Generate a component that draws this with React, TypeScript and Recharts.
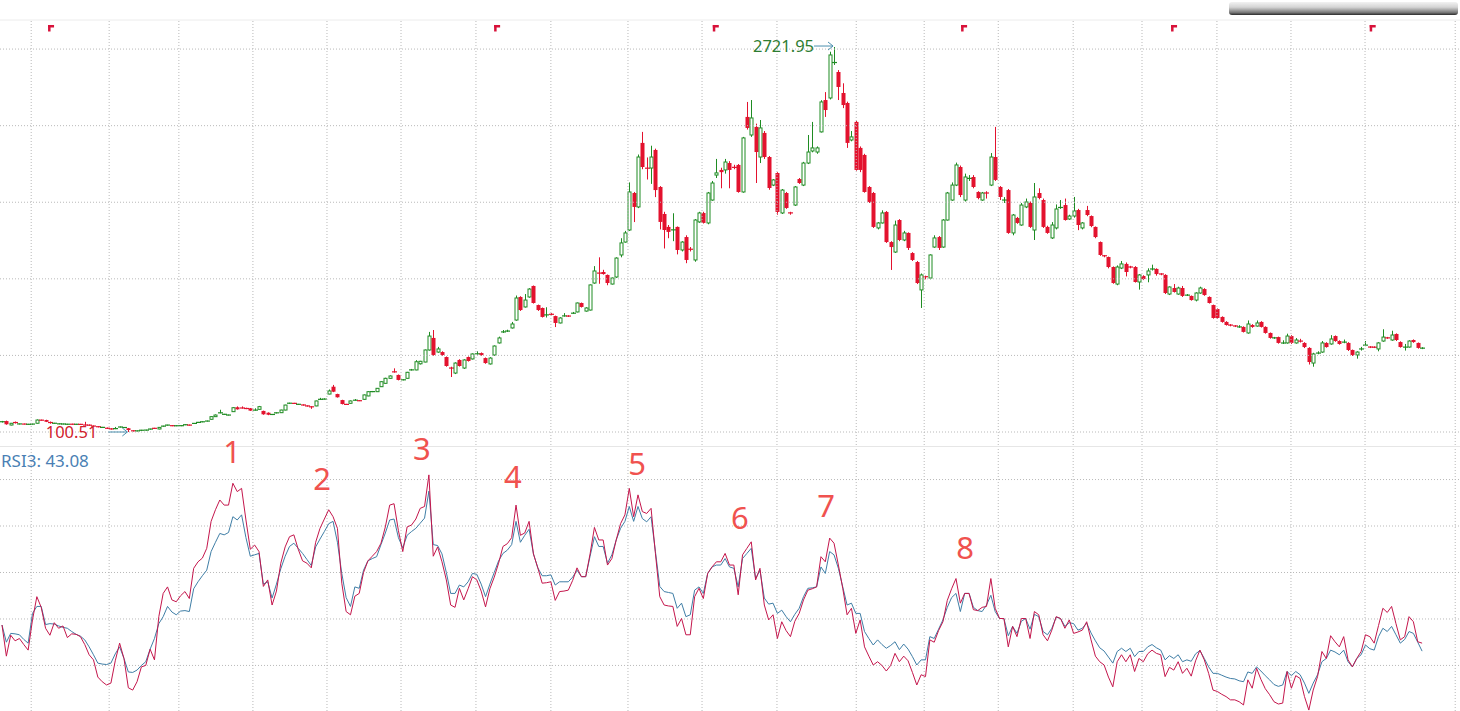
import React from 'react'
import {
  ComposedChart,
  LineChart,
  Bar,
  Line,
  Scatter,
  XAxis,
  YAxis,
  ReferenceLine,
  ReferenceDot,
} from 'recharts'

// ── daily candles (open / high / low / close) ────────────────
const opens = [
  170, 175, 148, 170, 155, 155, 153, 154, 160, 182,
  182, 170, 160, 156, 155, 153, 154, 153, 153, 150,
  148, 142, 138, 132, 128, 123, 122, 134, 131, 126,
  110, 108, 112, 113, 120, 127, 121, 140, 147, 145,
  143, 143, 150, 149, 158, 166, 170, 175, 187, 205,
  230, 221, 216, 239, 269, 266, 263, 262, 248, 255,
  244, 232, 219, 230, 232, 250, 296, 296, 289, 286,
  280, 274, 278, 322, 324, 359, 409, 359, 318, 289,
  296, 316, 314, 323, 346, 375, 375, 409, 432, 466,
  512, 489, 455, 466, 522, 523, 565, 577, 659, 741,
  645, 645, 611, 538, 502, 591, 536, 611, 598, 632,
  638, 604, 564, 625, 707, 780, 786, 809, 863, 1020,
  952, 1020, 1095, 965, 945, 897, 904, 890, 843, 890,
  892, 908, 918, 979, 924, 931, 1115, 1185, 1190, 1170,
  1108, 1156, 1306, 1394, 1476, 1728, 1633, 2069, 1898, 1898,
  2021, 1769, 1585, 1497, 1476, 1497, 1340, 1428, 1350, 1272,
  1531, 1592, 1524, 1680, 1850, 1885, 1885, 1932, 1905, 1919,
  1735, 2246, 2123, 2178, 1973, 2137, 1973, 1782, 1864, 1592,
  1728, 1595, 1646, 1823, 1782, 1932, 2014, 2007, 2144, 2361,
  2375, 2613, 2552, 2409, 2341, 2089, 2212, 2035, 1987, 1769,
  1728, 1490, 1524, 1599, 1394, 1326, 1544, 1408, 1456, 1319,
  1258, 1068, 1160, 1149, 1360, 1428, 1360, 1544, 1680, 1782,
  1905, 1680, 1825, 1837, 1735, 1680, 1730, 1782, 1973, 1769,
  1678, 1748, 1456, 1558, 1510, 1633, 1660, 1476, 1728, 1680,
  1497, 1422, 1490, 1626, 1646, 1551, 1571, 1612, 1490, 1612,
  1571, 1497, 1394, 1302, 1292, 1224, 1108, 1217, 1245, 1226,
  1224, 1122, 1163, 1170, 1209, 1211, 1178, 1170, 1040, 1081,
  1040, 1081, 1031, 1027, 999, 1047, 1074, 1020, 965, 938,
  884, 850, 830, 824, 814, 816, 775, 829, 822, 850,
  816, 775, 740, 747, 705, 707, 754, 707, 721, 707,
  673, 570, 636, 645, 707, 700, 754, 720, 711, 707,
  659, 625, 664, 690, 681, 680, 666, 720, 743, 727,
  768, 713, 677, 679, 727, 707, 670,
]
const highs = [
  176, 178, 162, 172, 158, 158, 156, 157, 186, 185,
  184, 172, 163, 159, 158, 156, 157, 156, 156, 170,
  152, 145, 141, 135, 131, 126, 135, 138, 134, 128,
  112, 111, 115, 116, 123, 129, 134, 143, 150, 147,
  146, 146, 153, 151, 162, 169, 173, 178, 207, 220,
  252, 224, 219, 270, 275, 275, 266, 264, 262, 278,
  246, 234, 223, 234, 252, 286, 300, 299, 292, 289,
  282, 276, 314, 333, 330, 390, 421, 361, 320, 292,
  315, 325, 317, 356, 378, 380, 400, 446, 470, 486,
  534, 492, 460, 510, 530, 590, 585, 662, 782, 795,
  680, 650, 615, 545, 575, 596, 596, 615, 636, 650,
  642, 608, 610, 690, 750, 795, 797, 850, 1030, 1025,
  1040, 1080, 1098, 968, 948, 950, 910, 893, 882, 910,
  896, 918, 982, 982, 950, 1105, 1230, 1290, 1205, 1173,
  1152, 1290, 1420, 1470, 1800, 1735, 1990, 2144, 1970, 2050,
  2030, 1775, 1600, 1510, 1590, 1500, 1400, 1440, 1360, 1550,
  1600, 1600, 1735, 1810, 1960, 1900, 1960, 1945, 1920, 1925,
  2110, 2348, 2361, 2200, 2225, 2150, 1980, 1823, 1870, 1755,
  1735, 1600, 1775, 1830, 1940, 2123, 2212, 2045, 2360, 2415,
  2690, 2721.95, 2565, 2475, 2350, 2150, 2220, 2045, 1995, 1775,
  1735, 1530, 1610, 1605, 1400, 1540, 1550, 1470, 1460, 1325,
  1265, 1180, 1165, 1310, 1440, 1435, 1550, 1735, 1800, 1935,
  1915, 1860, 1850, 1850, 1740, 1735, 1740, 2000, 2178, 1775,
  1700, 1755, 1585, 1565, 1660, 1690, 1670, 1796, 1760, 1690,
  1505, 1530, 1650, 1680, 1690, 1580, 1701, 1620, 1530, 1640,
  1575, 1500, 1398, 1306, 1295, 1228, 1235, 1265, 1255, 1232,
  1230, 1176, 1168, 1215, 1240, 1215, 1182, 1175, 1092, 1108,
  1090, 1095, 1040, 1030, 1052, 1090, 1080, 1024, 968, 942,
  888, 855, 835, 828, 828, 820, 860, 835, 860, 855,
  820, 778, 748, 750, 725, 770, 760, 740, 735, 712,
  678, 640, 650, 720, 712, 760, 758, 725, 730, 712,
  662, 650, 680, 720, 685, 684, 712, 800, 748, 790,
  772, 718, 700, 725, 731, 710, 678,
]
const lows = [
  165, 150, 146, 158, 152, 152, 150, 151, 158, 178,
  168, 157, 157, 153, 152, 150, 151, 150, 150, 144,
  143, 137, 132, 129, 121, 117, 120, 131, 128, 100.51,
  104, 105, 109, 110, 117, 121, 119, 137, 144, 140,
  140, 140, 147, 144, 155, 163, 167, 172, 185, 203,
  228, 218, 213, 237, 253, 260, 256, 244, 246, 253,
  218, 215, 216, 227, 230, 248, 293, 293, 286, 280,
  273, 258, 276, 320, 322, 357, 372, 335, 288, 285,
  294, 314, 311, 321, 344, 372, 373, 407, 430, 464,
  505, 452, 452, 464, 519, 521, 560, 575, 655, 620,
  640, 620, 545, 475, 495, 546, 530, 580, 594, 628,
  620, 565, 560, 620, 703, 775, 782, 805, 858, 925,
  948, 1015, 975, 925, 880, 880, 895, 815, 840, 886,
  884, 905, 915, 948, 920, 928, 1110, 1110, 1172, 1100,
  1105, 1150, 1290, 1390, 1470, 1530, 1625, 1890, 1820, 1790,
  1700, 1480, 1350, 1420, 1400, 1310, 1330, 1250, 1330, 1260,
  1525, 1520, 1515, 1675, 1830, 1760, 1860, 1760, 1890, 1730,
  1730, 2160, 2110, 1796, 1932, 1960, 1750, 1775, 1580, 1585,
  1620, 1580, 1640, 1790, 1775, 1925, 2005, 1995, 2140, 2246,
  2365, 2600, 2361, 2306, 2035, 2080, 1880, 1870, 1730, 1660,
  1490, 1480, 1520, 1388, 1204, 1320, 1400, 1400, 1340, 1265,
  1108, 945, 1140, 1140, 1355, 1340, 1355, 1540, 1675, 1775,
  1700, 1670, 1810, 1760, 1685, 1675, 1690, 1775, 1810, 1680,
  1660, 1450, 1440, 1518, 1505, 1625, 1490, 1408, 1685, 1490,
  1450, 1415, 1480, 1620, 1540, 1545, 1560, 1475, 1480, 1570,
  1495, 1420, 1300, 1290, 1215, 1110, 1100, 1210, 1160, 1215,
  1118, 1070, 1135, 1120, 1200, 1165, 1168, 1040, 1033, 1050,
  1035, 1020, 1027, 995, 990, 1042, 1028, 975, 872, 872,
  845, 825, 820, 815, 810, 778, 770, 810, 818, 812,
  770, 736, 735, 702, 700, 702, 700, 702, 710, 672,
  560, 545, 630, 640, 675, 695, 715, 695, 705, 652,
  618, 600, 655, 685, 672, 672, 650, 715, 735, 722,
  720, 675, 655, 675, 708, 668, 665,
]
const closes = [
  171, 153, 160, 160, 156, 154, 153, 155, 182, 180,
  170, 160, 160, 156, 155, 154, 153, 153, 152, 146,
  146, 140, 135, 132, 124, 120, 125, 135, 131, 114,
  107, 108, 113, 114, 121, 124, 132, 141, 148, 142,
  143, 144, 150, 146, 160, 166, 170, 175, 205, 216,
  232, 221, 216, 266, 255, 262, 258, 246, 251, 273,
  221, 218, 221, 232, 250, 284, 297, 295, 289, 283,
  276, 270, 312, 324, 325, 380, 375, 337, 291, 288,
  312, 318, 313, 353, 375, 376, 398, 443, 466, 482,
  508, 455, 457, 507, 525, 579, 582, 659, 754, 625,
  666, 625, 550, 534, 570, 550, 591, 584, 632, 634,
  625, 570, 604, 686, 741, 784, 790, 836, 1013, 931,
  999, 1074, 979, 931, 884, 899, 900, 843, 877, 892,
  888, 911, 979, 952, 945, 1102, 1197, 1180, 1176, 1115,
  1149, 1285, 1388, 1456, 1735, 1633, 1973, 1905, 1896, 1973,
  1748, 1531, 1476, 1463, 1478, 1340, 1394, 1272, 1340, 1544,
  1592, 1524, 1728, 1796, 1865, 1870, 1939, 1885, 1900, 1735,
  2103, 2171, 2239, 2007, 2171, 1973, 1762, 1817, 1599, 1748,
  1626, 1590, 1769, 1796, 1932, 2007, 2035, 2035, 2348, 2293,
  2668, 2620, 2450, 2327, 2069, 2110, 1885, 1885, 1735, 1667,
  1497, 1524, 1592, 1394, 1360, 1510, 1408, 1456, 1354, 1272,
  1115, 1170, 1156, 1306, 1422, 1354, 1544, 1728, 1782, 1919,
  1714, 1837, 1830, 1769, 1694, 1728, 1726, 1973, 1817, 1701,
  1682, 1456, 1578, 1524, 1646, 1667, 1497, 1701, 1694, 1497,
  1456, 1510, 1619, 1633, 1544, 1571, 1606, 1510, 1524, 1578,
  1503, 1428, 1306, 1299, 1224, 1115, 1224, 1245, 1190, 1222,
  1122, 1170, 1142, 1197, 1212, 1176, 1175, 1047, 1088, 1054,
  1081, 1027, 1034, 999, 1047, 1081, 1033, 979, 877, 877,
  850, 829, 827, 821, 818, 782, 836, 816, 843, 816,
  775, 741, 743, 707, 708, 754, 707, 727, 718, 679,
  577, 632, 640, 707, 679, 734, 720, 700, 714, 659,
  625, 645, 668, 694, 677, 676, 707, 747, 740, 761,
  727, 679, 680, 720, 713, 673, 673,
]

// ── RSI (short period, crimson) and RSI3 (blue) ──────────────
const rsiFast = [
  48.7, 42, 46.5, 45.3, 45.8, 44.5, 43.3, 49.8, 54.8, 52.5,
  48, 46.5, 49.2, 48, 48.5, 46, 46.8, 46.7, 46.2, 44.5,
  42.3, 41.2, 37.5, 36.5, 35.8, 36.2, 41, 44.8, 41.5, 35.2,
  34.7, 36.5, 39.7, 40, 43.5, 41.2, 50.5, 55.5, 56.9, 54.1,
  53.7, 55, 55.9, 54.4, 60.9, 62.3, 63.1, 65.2, 71, 73.5,
  75.6, 74.5, 74.5, 79.2, 77.4, 78.1, 71.3, 65, 65.9, 64.5,
  57, 58.4, 53, 56, 62, 65.5, 67.7, 68.1, 65, 62.5,
  62, 61, 66.5, 69.5, 71.5, 73.5, 72, 69.5, 57.7, 51.6,
  50.9, 54.9, 55.5, 60, 62.5, 63.5, 64.5, 66.3, 69.8, 74.5,
  74.8, 69, 64.5, 69.8, 70.2, 71.5, 73.8, 74.2, 81, 63.5,
  65.5, 62.3, 58.4, 53, 52.5, 56.6, 54.1, 56.5, 59.1, 58.4,
  56, 52.6, 56.5, 59, 62, 65.6, 66.2, 67.5, 74.5, 68,
  68.5, 71, 64, 61, 57.7, 57.8, 58, 54, 55.9, 56,
  56.2, 58.3, 61, 59.1, 59.1, 64, 69.7, 67, 67, 61.6,
  63, 67, 70.5, 72.4, 78.1, 72, 76.7, 73.1, 72.7, 73.8,
  64.1, 54.8, 53, 52.8, 52.7, 48.4, 50.1, 46.6, 46.6, 54.8,
  56.6, 54.4, 59.8, 61.2, 62.3, 62.3, 64.1, 61.6, 61.6, 55.2,
  63.8, 65.2, 66.6, 58.4, 60.9, 53, 49.8, 50.9, 45.8, 49.4,
  47.5, 46.2, 49.5, 51.2, 54.1, 56.2, 56.5, 56.9, 63.4, 62.3,
  67.4, 66.3, 61.6, 56.6, 50.9, 52.3, 46.9, 49.8, 44, 42,
  40.1, 40.8, 40, 38.8, 40, 42.6, 40.8, 42, 41, 38.5,
  35.8, 38, 37.6, 45.5, 45, 47.5, 49.4, 54, 56.5, 58.7,
  53.4, 55.5, 55.5, 52, 51.8, 52.5, 52.7, 58.7, 52.3, 50.1,
  50.1, 44, 48.4, 46.2, 50.1, 50.1, 45.8, 51.6, 50.9, 46.6,
  45.3, 47.6, 50.5, 50.1, 48, 49.8, 46.9, 47.2, 47.6, 49.4,
  45.5, 42, 40.8, 40.1, 37.5, 35.4, 40.8, 42.3, 40.8, 42.3,
  38.7, 41.5, 40.8, 42.5, 43.3, 42.6, 42.3, 37.6, 39.6, 39,
  40.8, 38.3, 39.4, 37.7, 41, 43.3, 41.2, 38.3, 34.7, 34.4,
  33.8, 33.3, 32.6, 32.6, 32.2, 31.5, 36.9, 35.1, 39.4, 37,
  35, 33.7, 32.2, 31.7, 31.9, 38.7, 35.1, 37.8, 37.2, 33.3,
  30.4, 34.7, 37.6, 43, 41.5, 46.4, 45.1, 44, 46.2, 41.2,
  39.7, 41.5, 43, 46.6, 46.2, 44.8, 48.6, 52.3, 51.4, 52.7,
  49, 45.5, 46.2, 50.5, 49.4, 45.1, 44.8,
]
const rsiSlow = [
  48.7, 45, 46.9, 46.8, 46.6, 45.6, 44.8, 51.2, 52.7, 52.7,
  48.8, 49, 48.9, 48.5, 48.2, 48, 47.3, 46.7, 46.3, 45.5,
  44, 42.3, 40.5, 40.3, 40.2, 40.5, 42.5, 44, 41.5, 38.6,
  38.5, 39, 40, 40.8, 43.5, 45.8, 49, 50.5, 52.7, 51.5,
  50.9, 51.7, 51.8, 51.6, 56.5, 58, 59.3, 60.5, 64.5, 66.5,
  68.4, 68.1, 68.6, 72, 71.3, 72.4, 67.5, 63.5, 63.8, 64.1,
  57.5, 58, 54.5, 57.5, 60.8, 63.5, 65.6, 66.3, 65.2, 64.1,
  62.8, 61.5, 65.5, 67.2, 68.8, 70.5, 71, 66.5, 59.8, 54.6,
  52.7, 56.9, 56.6, 60.5, 62.5, 63, 63.4, 66, 68.5, 71.3,
  71.5, 67.5, 65.3, 68, 68.8, 69.5, 70.6, 71.7, 77.5, 66,
  65.8, 64, 60, 55.5, 55.5, 57.3, 56.9, 58, 59.8, 59.6,
  57.5, 54.8, 57.5, 60, 62.5, 64.1, 64.8, 66, 71, 66.5,
  68, 69.3, 64, 61, 59.3, 59.3, 59.5, 57.3, 58, 58,
  58, 59, 60.5, 59.1, 59.1, 63.5, 67.7, 65.6, 65.6, 62,
  63.8, 67, 69.5, 71, 74.2, 71, 74.2, 71.6, 70.9, 72,
  64.5, 57, 55.9, 55.7, 55.5, 52.3, 53.4, 50.5, 50.9, 56.2,
  56.9, 55.5, 59.8, 61.2, 61.6, 61.6, 63, 61.2, 60.9, 56.9,
  63, 64.1, 65.2, 58.7, 60.5, 54.5, 53.2, 53.4, 51.2, 51.9,
  50.5, 49.4, 51, 52.3, 54.8, 56.6, 56.7, 56.9, 61.2, 59.8,
  64.5, 63.8, 60.9, 56.9, 53, 53.4, 51.2, 51.2, 47.3, 45.8,
  44.4, 45.5, 44.5, 43.7, 44.3, 45.1, 43.4, 44.6, 43.5, 41.9,
  40.1, 41.2, 41.2, 46.2, 45.8, 47.8, 49.8, 52.5, 54.6, 55.5,
  51.6, 55.5, 55.5, 52.5, 51.8, 51.6, 53, 55.1, 51.6, 50.1,
  50.1, 46.4, 48.4, 46.9, 49.5, 50.1, 47.8, 51, 50.5, 47.3,
  46.6, 48, 50.4, 50.1, 48.4, 49.2, 49, 47.6, 48, 49.1,
  47, 45.3, 43.8, 43.1, 41.8, 40.5, 43, 43.7, 43, 43.7,
  41.9, 43, 43, 44, 44.5, 43.8, 43.3, 41.2, 42.1, 41.5,
  42.3, 40.8, 41.2, 40.9, 42.5, 43.2, 41.5, 39.7, 38.3, 38.3,
  37.9, 37.5, 37.2, 37.1, 36.7, 36.5, 38.6, 38.3, 39.7, 38.8,
  37.8, 36.9, 35.9, 35.5, 35.8, 38.7, 37.8, 38.7, 38, 36.2,
  34, 36.2, 38, 40.8, 41.5, 43.3, 42.9, 42.3, 43.3, 40.8,
  39.7, 41.5, 42.3, 44.4, 43.6, 43.3, 46.2, 48, 47.3, 48.4,
  46.6, 44.8, 45.6, 47.3, 46.9, 45, 43.08,
]

// month separators (candle index), price / RSI grid levels
const monthBreaks = [
  6.7, 24.6, 40.6, 57.6, 74.6, 91.6, 108.8, 126, 143.7, 160.7,
  177.9, 196.1, 211.7, 228.7, 245.9, 261.7, 278.9, 295.9, 312.9, 333.6,
]
const priceLevels = [100.5, 622, 1143.5, 1665, 2186.5, 2708]
const rsiLevels = [40, 50, 60, 70, 80]

// red event flags along the top
const flagIndex = [10.8, 113.2, 163.4, 220.4, 268.6, 314.2]
const flagLevel = 2872

// numbered RSI peaks
const peakNames = ['1', '2', '3', '4', '5', '6', '7', '8']
const peakIndex = [52.8, 73.5, 96.4, 117.3, 145.8, 169.4, 189.2, 221.1]
const peakLevel = [85.9, 80.2, 86.6, 80.5, 83.3, 71.7, 74.3, 65.3]

const UP = '#1f8c23'
const DOWN = '#e3122e'
const GRID = '#b9b9b9'
const FONT = '"Noto Sans", "DejaVu Sans", sans-serif'
const X_DOMAIN: [number, number] = [-0.46, 334.7]
const RSI_PAD = 22 // room above the RSI plot for the peak numbers

const rows = opens.map((o, i) => ({
  i,
  open: o,
  high: highs[i],
  low: lows[i],
  close: closes[i],
  range: [lows[i], highs[i]],
  fast: rsiFast[i],
  slow: rsiSlow[i],
}))

const flags = flagIndex.map((i) => ({ i, v: flagLevel }))

const hiIdx = highs.indexOf(Math.max(...highs))
const loIdx = lows.indexOf(Math.min(...lows))

// ── candle drawn inside the [low, high] bar ──────────────────
function Candle(props: any) {
  const { x, y, width, height, payload } = props
  const { open, close, high, low } = payload
  const top = Math.min(y, y + height)
  const h = Math.abs(height)
  const py = (v: number) => (high === low ? top : top + ((high - v) / (high - low)) * h)
  const up = close >= open
  const color = up ? UP : DOWN
  const cx = Math.round(x + width / 2) + 0.5
  const yo = py(open)
  const yc = py(close)
  const bt = Math.min(yo, yc)
  const bb = Math.max(yo, yc)
  return (
    <g>
      <line x1={cx} x2={cx} y1={top} y2={top + h} stroke={color} strokeWidth={1} />
      {bb - bt < 1.5 ? (
        <line x1={cx - 2.5} x2={cx + 2.5} y1={(bt + bb) / 2} y2={(bt + bb) / 2} stroke={color} strokeWidth={1.2} />
      ) : up ? (
        <rect x={cx - 1.5} y={bt} width={3} height={bb - bt} fill="#fff" stroke={color} strokeWidth={1} />
      ) : (
        <rect x={cx - 2} y={bt} width={4} height={bb - bt} fill={color} />
      )}
    </g>
  )
}

function Flag(props: any) {
  const { cx, cy } = props
  return (
    <g fill="#d8123a">
      <rect x={cx - 1} y={cy} width={6} height={2.5} />
      <rect x={cx - 1} y={cy} width={2.5} height={6.5} />
    </g>
  )
}

function PriceNote({ cx, cy, text, color, gap }: any) {
  return (
    <g>
      <text x={cx - gap} y={cy + 6} textAnchor="end" fill={color} fontSize={16.5} fontFamily={FONT}>
        {text}
      </text>
      <g stroke="#4b8fae" strokeWidth={1} fill="none">
        <line x1={cx - 20} x2={cx - 1} y1={cy} y2={cy} />
        <polyline points={`${cx - 6},${cy - 4} ${cx - 1},${cy} ${cx - 6},${cy + 4}`} />
      </g>
    </g>
  )
}

function PeakName(props: any) {
  const { cx, cy, name } = props
  return (
    <text x={cx} y={cy + 11} textAnchor="middle" fill="#f0524f" fontSize={31} fontFamily={FONT}>
      {name}
    </text>
  )
}

export default function App() {
  return (
    <div style={{ position: 'absolute', left: 0, top: 0, width: 1460, height: 711, background: '#fff', overflow: 'hidden' }}>
      {/* blurred bar top right */}
      <div
        style={{
          position: 'absolute',
          left: 1229,
          top: 2,
          width: 229,
          height: 13,
          borderRadius: 3,
          background: 'linear-gradient(to bottom, #f2f2f2 0%, #d4d4d4 40%, #7a7a7a 80%, #2a2a2a 100%)',
          filter: 'blur(0.7px)',
        }}
      />

      <div style={{ position: 'absolute', left: 0, top: 0 }}>
        <ComposedChart width={1460} height={447} data={rows} margin={{ top: 20, right: 0, bottom: 2, left: 0 }}>
          <XAxis dataKey="i" type="number" domain={X_DOMAIN} allowDataOverflow hide />
          <YAxis type="number" domain={[12, 2906]} allowDataOverflow hide />
          <ReferenceLine y={2906} stroke="#ececec" />
          {priceLevels.map((v) => (
            <ReferenceLine key={`p${v}`} y={v} stroke={GRID} strokeDasharray="1 2" />
          ))}
          {monthBreaks.map((v) => (
            <ReferenceLine key={`m${v}`} x={v} stroke={GRID} strokeDasharray="1 2" />
          ))}
          <Bar dataKey="range" barSize={3} shape={<Candle />} isAnimationActive={false} />
          <Scatter data={flags} dataKey="v" shape={<Flag />} isAnimationActive={false} />
          <ReferenceDot
            x={hiIdx}
            y={highs[hiIdx]}
            r={0}
            shape={(p: any) => <PriceNote cx={p.cx} cy={p.cy - 1} text={highs[hiIdx].toFixed(2)} color="#2e7d32" gap={20} />}
          />
          <ReferenceDot
            x={loIdx}
            y={lows[loIdx]}
            r={0}
            shape={(p: any) => <PriceNote cx={p.cx} cy={p.cy} text={lows[loIdx].toFixed(2)} color="#d0202c" gap={31} />}
          />
        </ComposedChart>
      </div>

      <div style={{ position: 'absolute', left: 0, top: 446, width: 1460, height: 1, background: '#e6e6e6' }} />

      <div style={{ position: 'absolute', left: 0, top: 447 - RSI_PAD }}>
        <LineChart
          width={1460}
          height={264 + RSI_PAD}
          data={rows}
          margin={{ top: RSI_PAD, right: 0, bottom: 0, left: 0 }}
        >
          <XAxis dataKey="i" type="number" domain={X_DOMAIN} allowDataOverflow hide />
          <YAxis type="number" domain={[30.2, 87]} allowDataOverflow hide />
          {rsiLevels.map((v) => (
            <ReferenceLine key={`r${v}`} y={v} stroke={GRID} strokeDasharray="1 2" />
          ))}
          {monthBreaks.map((v) => (
            <ReferenceLine key={`n${v}`} x={v} stroke={GRID} strokeDasharray="1 2" />
          ))}
          <Line type="linear" dataKey="slow" stroke="#3f7ea6" strokeWidth={1} dot={false} isAnimationActive={false} />
          <Line type="linear" dataKey="fast" stroke="#c4164c" strokeWidth={1} dot={false} isAnimationActive={false} />
          {peakNames.map((name, k) => (
            <ReferenceDot
              key={name}
              x={peakIndex[k]}
              y={peakLevel[k]}
              r={0}
              shape={(p: any) => <PeakName cx={p.cx} cy={p.cy} name={name} />}
            />
          ))}
        </LineChart>
        <div
          style={{
            position: 'absolute',
            left: 1,
            top: RSI_PAD + 4,
            fontFamily: FONT,
            fontSize: 17,
            color: '#4a7fb4',
            lineHeight: '20px',
          }}
        >
          RSI3: {rsiSlow[rsiSlow.length - 1].toFixed(2)}
        </div>
      </div>
    </div>
  )
}
